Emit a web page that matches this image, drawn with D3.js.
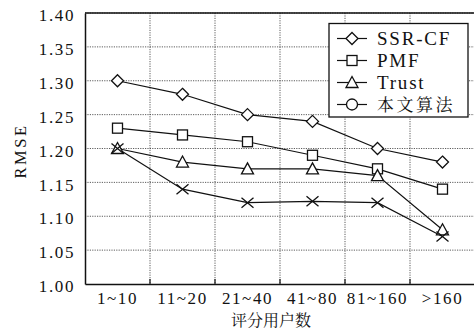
<!DOCTYPE html>
<html>
<head>
<meta charset="utf-8">
<script src="https://cdn.jsdelivr.net/npm/d3@7"></script>
<style>
  body { margin: 0; background: #fff; }
</style>
</head>
<body>
<svg id="chart" width="474" height="331"></svg>
<script>
// categories and values
var groups = ['1~10', '11~20', '21~40', '41~80', '81~160', '>160'];
var yTicks = [1.00, 1.05, 1.10, 1.15, 1.20, 1.25, 1.30, 1.35, 1.40];
var ssrcf = [1.30, 1.28, 1.25, 1.24, 1.20, 1.18];
var pmf   = [1.23, 1.22, 1.21, 1.19, 1.17, 1.14];
var trust = [1.20, 1.18, 1.17, 1.17, 1.16, 1.08];
var ours  = [1.20, 1.14, 1.12, 1.122, 1.12, 1.07];

var seriesNames = ['SSR-CF', 'PMF', 'Trust', '本文算法'];

var series = [
  { name: seriesNames[0], values: ssrcf, mark: 'diamond', legendMark: 'diamond' },
  { name: seriesNames[1], values: pmf,   mark: 'square',  legendMark: 'square' },
  { name: seriesNames[2], values: trust, mark: 'triangle', legendMark: 'triangle' },
  { name: seriesNames[3], values: ours,  mark: 'cross',   legendMark: 'circle' }
];

var SERIF = "'Liberation Serif'";
var CJK = "'Noto Serif CJK SC'";

var svg = d3.select('#chart');
var pLeft = 85, pTop = 13, pRight = 475, pBottom = 284;

var x = d3.scaleBand().domain(groups).range([pLeft, pRight]);
var y = d3.scaleLinear().domain([1.0, 1.4]).range([pBottom, pTop]);

// dotted grid
var grid = svg.append('g');
grid.selectAll('.gy').data(yTicks.slice(1)).enter().append('line')
  .attr('x1', pLeft).attr('x2', pRight)
  .attr('y1', function (d) { return y(d) }).attr('y2', function (d) { return y(d) })
  .attr('stroke', '#333').attr('stroke-width', 0.8).attr('stroke-dasharray', '1.2,1.2');
grid.selectAll('.gx').data(groups.slice(1)).enter().append('line')
  .attr('x1', function (d) { return x(d) }).attr('x2', function (d) { return x(d) })
  .attr('y1', pTop).attr('y2', pBottom)
  .attr('stroke', '#333').attr('stroke-width', 0.8).attr('stroke-dasharray', '1.2,1.2');

// frame
svg.append('line').attr('x1', pLeft).attr('x2', pRight).attr('y1', pTop).attr('y2', pTop)
  .attr('stroke', '#111').attr('stroke-width', 1.5);

var yAxis = d3.axisLeft(y).tickValues(yTicks).tickSize(0).tickPadding(10)
  .tickFormat(d3.format('.2f'));
var ga = svg.append('g').attr('transform', 'translate(' + pLeft + ',0)').call(yAxis);
ga.select('.domain').attr('stroke', '#111').attr('stroke-width', 1.5);
ga.selectAll('text').style('font-family', SERIF).attr('font-size', 17).attr('letter-spacing', 1.6)
  .attr('fill', '#111').attr('dy', '0.45em');

var xAxis = d3.axisBottom(x).tickSize(0).tickPadding(8);
var gx = svg.append('g').attr('transform', 'translate(0,' + pBottom + ')').call(xAxis);
gx.select('.domain').attr('stroke', '#111').attr('stroke-width', 1.5);
gx.selectAll('text').style('font-family', SERIF).attr('font-size', 17).attr('letter-spacing', 1.6)
  .attr('fill', '#111');
// small ticks at band edges on x axis
svg.selectAll('.xt').data(groups.slice(1)).enter().append('line')
  .attr('x1', function (d) { return x(d) }).attr('x2', function (d) { return x(d) })
  .attr('y1', pBottom).attr('y2', pBottom - 5).attr('stroke', '#111').attr('stroke-width', 1.2);

svg.append('text').attr('transform', 'translate(20,151) rotate(-90)')
  .attr('text-anchor', 'middle').attr('dominant-baseline', 'central')
  .style('font-family', SERIF).attr('font-size', 16.5).attr('letter-spacing', 2.5)
  .attr('fill', '#111').text('RMSE');
svg.append('text').attr('x', 271).attr('y', 326).attr('text-anchor', 'middle')
  .style('font-family', CJK).attr('font-size', 16).attr('fill', '#111').text('评分用户数');

var line = d3.line()
  .x(function (d, i) { return x(groups[i]) + x.bandwidth() / 2 })
  .y(function (d) { return y(d) });

function drawMark(g, type, cx, cy) {
  if (type === 'diamond') {
    g.append('path').attr('d', 'M' + cx + ',' + (cy - 6) + 'L' + (cx + 6) + ',' + cy + 'L' + cx + ',' + (cy + 6) + 'L' + (cx - 6) + ',' + cy + 'Z')
      .attr('fill', '#fff').attr('stroke', '#111').attr('stroke-width', 1.3);
  } else if (type === 'square') {
    g.append('rect').attr('x', cx - 5).attr('y', cy - 5).attr('width', 10).attr('height', 10)
      .attr('fill', '#fff').attr('stroke', '#111').attr('stroke-width', 1.3);
  } else if (type === 'triangle') {
    g.append('path').attr('d', 'M' + cx + ',' + (cy - 6) + 'L' + (cx + 6) + ',' + (cy + 5) + 'L' + (cx - 6) + ',' + (cy + 5) + 'Z')
      .attr('fill', '#fff').attr('stroke', '#111').attr('stroke-width', 1.3);
  } else if (type === 'circle') {
    g.append('circle').attr('cx', cx).attr('cy', cy).attr('r', 5.5)
      .attr('fill', '#fff').attr('stroke', '#111').attr('stroke-width', 1.3);
  } else if (type === 'cross') {
    g.append('path').attr('d', 'M' + (cx - 6) + ',' + (cy - 5) + 'L' + (cx + 6) + ',' + (cy + 5) + 'M' + (cx - 6) + ',' + (cy + 5) + 'L' + (cx + 6) + ',' + (cy - 5))
      .attr('fill', 'none').attr('stroke', '#111').attr('stroke-width', 1.3);
  }
}

var plot = svg.append('g');
series.forEach(function (s) {
  plot.append('path').datum(s.values).attr('d', line)
    .attr('fill', 'none').attr('stroke', '#111').attr('stroke-width', 1.2);
});
series.forEach(function (s) {
  var g = plot.append('g');
  s.values.forEach(function (v, i) {
    drawMark(g, s.mark, x(groups[i]) + x.bandwidth() / 2, y(v));
  });
});

// legend
var lg = svg.append('g');
lg.append('rect').attr('x', 329).attr('y', 23.5).attr('width', 139).attr('height', 93.5)
  .attr('fill', '#fff').attr('stroke', '#111').attr('stroke-width', 1.3);
series.forEach(function (s, i) {
  var ly = 38.5 + i * 22;
  lg.append('line').attr('x1', 337).attr('x2', 367).attr('y1', ly).attr('y2', ly)
    .attr('stroke', '#111').attr('stroke-width', 1.2);
  drawMark(lg, s.legendMark, 352, ly);
  var t = lg.append('text').attr('x', 377).attr('y', ly + 6.5).text(s.name).attr('fill', '#111');
  if (i === 3) t.style('font-family', CJK).attr('font-size', 17).attr('letter-spacing', 2.5).attr('y', ly + 6.5);
  else t.style('font-family', SERIF).attr('font-size', 19).attr('letter-spacing', 1.8);
});
</script>
</body>
</html>
